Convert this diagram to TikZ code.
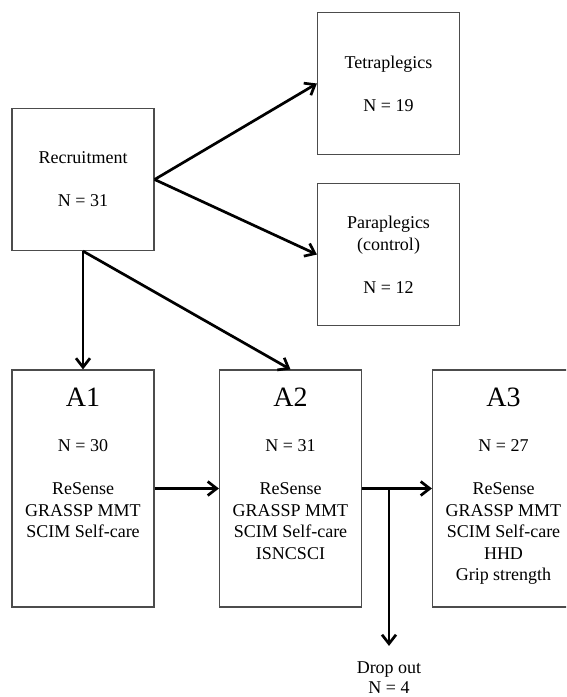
\documentclass[tikz,border=0pt]{standalone}
\usepackage{fontspec}
\setmainfont{Liberation Serif}
\usepackage{tikz}
\usetikzlibrary{arrows.meta}

\begin{document}
\begin{tikzpicture}[x=1pt, y=-1pt]
        \tikzset{group/.style = {draw=black!70, line width=1.2pt, minimum width=142pt, minimum height=142pt, align=center, inner sep=2pt, font=\fontsize{18}{21.5}\selectfont}}
        \tikzset{stage/.style = {draw=black!70, line width=1.2pt, minimum width=142pt, minimum height=237pt, inner sep=0pt}}
        \tikzset{stagetext/.style = {anchor=north, yshift=-18pt, align=center, inner sep=0pt, font=\fontsize{18}{21.5}\selectfont}}
        \tikzset{edge/.style = {->, > = {Straight Barb[length=9pt, width=14pt]}, line width=2.7pt}}

        \useasboundingbox (0,0) rectangle (566,697);
        \clip (0,0) rectangle (566,697);

        \node[group] (rec) at (83,179.5) {Recruitment\\[21.5pt] N = 31};
        \node[group] (tetra) at (388.5,83.5) {Tetraplegics\\[21.5pt] N = 19};
        \node[group] (para) at (388.5,254.5) {Paraplegics\\ (control)\\[21.5pt] N = 12};

        \node[stage, label={[stagetext]north:{{\fontsize{28}{30}\selectfont A1}\\[24pt] N = 30\\[21.5pt] ReSense\\ GRASSP MMT\\ SCIM Self-care}}] (a1) at (83,488.5) {};
        \node[stage, label={[stagetext]north:{{\fontsize{28}{30}\selectfont A2}\\[24pt] N = 31\\[21.5pt] ReSense\\ GRASSP MMT\\ SCIM Self-care\\ ISNCSCI}}] (a2) at (290.5,488.5) {};
        \node[stage, label={[stagetext]north:{{\fontsize{28}{30}\selectfont A3}\\[24pt] N = 27\\[21.5pt] ReSense\\ GRASSP MMT\\ SCIM Self-care\\ HHD\\ Grip strength}}] (a3) at (503.5,488.5) {};

        \coordinate (split) at (389,488.5);
        \node[align=center, inner sep=1pt, font=\fontsize{18}{20}\selectfont] (drop) at (389,678) {Drop out\\ N = 4};

        \draw[edge] (rec.east) to (tetra.west);
        \draw[edge] (rec.east) to (para.west);
        \draw[edge] (rec.south) to (a1.north);
        \draw[edge] (rec.south) to (a2.north);

        \draw[edge] (a1.east) to (a2.west);
        \draw[edge] (a2.east) to (a3.west);
        \draw[edge, shorten >=15pt] (split) to (drop.north);
    \end{tikzpicture}
\end{document}
